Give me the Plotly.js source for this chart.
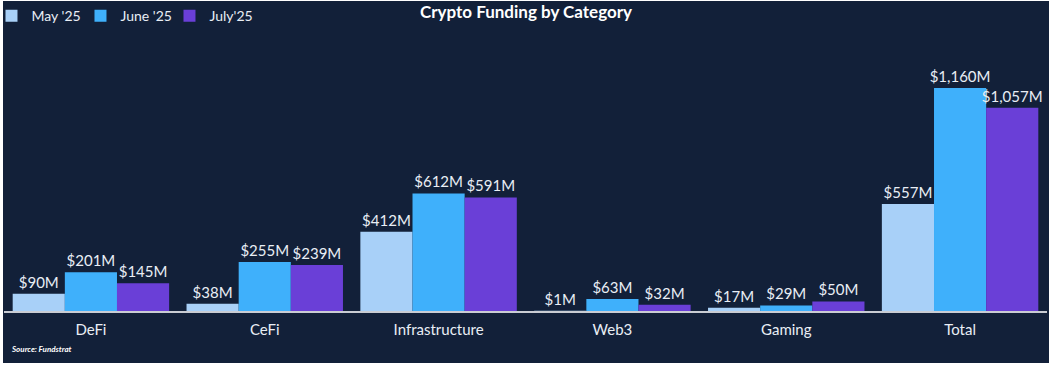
<!DOCTYPE html>
<html>
<head>
<meta charset="utf-8">
<script src="https://cdn.plot.ly/plotly-3.0.1.min.js"></script>
<style>
  html, body { margin: 0; padding: 0; background: #ffffff; }
  #chart { position: absolute; left: 3px; top: 1px; width: 1046px; height: 362px; }
</style>
</head>
<body>
<div id="chart"></div>
<script>
const categories = ['DeFi', 'CeFi', 'Infrastructure', 'Web3', 'Gaming', 'Total'];
const may25 = [90, 38, 412, 1, 17, 557];
const june25 = [201, 255, 612, 63, 29, 1160];
const july25 = [145, 239, 591, 32, 50, 1057];
const seriesNames = ["May '25", "June '25", "July'25"];

const colors = ['#a8d0f8', '#3fb0fb', '#6a3fd7'];
const fontFam = 'Lato, "Open Sans", sans-serif';

function mk(name, vals, color) {
  return {
    type: 'bar', name: name, x: categories, y: vals,
    marker: { color: color, line: { width: 0 } },
    texttemplate: '$%{y:,}M',
    textposition: 'outside',
    constraintext: 'none',
    cliponaxis: false,
    textfont: { color: '#e9eef5', size: 15, family: fontFam },
    hoverinfo: 'x+y'
  };
}

const data = [
  mk(seriesNames[0], may25, colors[0]),
  mk(seriesNames[1], june25, colors[1]),
  mk(seriesNames[2], july25, colors[2])
];

const layout = {
  width: 1046, height: 362,
  paper_bgcolor: '#122039', plot_bgcolor: '#122039',
  margin: { l: 1, r: 2, t: 30, b: 52, autoexpand: false },
  barmode: 'group', bargap: 0.1, bargroupgap: 0,
  font: { family: fontFam, color: '#e9eef5' },
  title: {
    text: '<b>Crypto Funding by Category</b>',
    font: { size: 17, color: '#ffffff', family: fontFam },
    x: 0.5, xanchor: 'center', xref: 'container',
    y: 0.985, yanchor: 'top', yref: 'container'
  },
  showlegend: true,
  legend: {
    orientation: 'h', x: -0.012, xanchor: 'left', y: 1.11, yanchor: 'top',
    font: { size: 14, color: '#e9eef5', family: fontFam },
    bgcolor: 'rgba(0,0,0,0)', itemwidth: 30, entrywidth: 44, entrywidthmode: 'pixels',
    traceorder: 'normal'
  },
  xaxis: {
    showline: true, linecolor: '#c9ccd3', linewidth: 2,
    ticks: '', showgrid: false, zeroline: false,
    tickfont: { size: 15, color: '#e9eef5', family: fontFam },
    ticklabelstandoff: 4
  },
  yaxis: {
    range: [0, 1457], visible: false, showgrid: false, zeroline: false
  },
  annotations: [{
    text: '<b><i>Source: Fundstrat</i></b>',
    xref: 'paper', yref: 'paper', x: 0.005, y: -0.135,
    xanchor: 'left', yanchor: 'middle', showarrow: false,
    font: { size: 8, color: '#ffffff', family: fontFam }
  }]
};

Plotly.newPlot('chart', data, layout, { displayModeBar: false, staticPlot: true });
</script>
</body>
</html>
